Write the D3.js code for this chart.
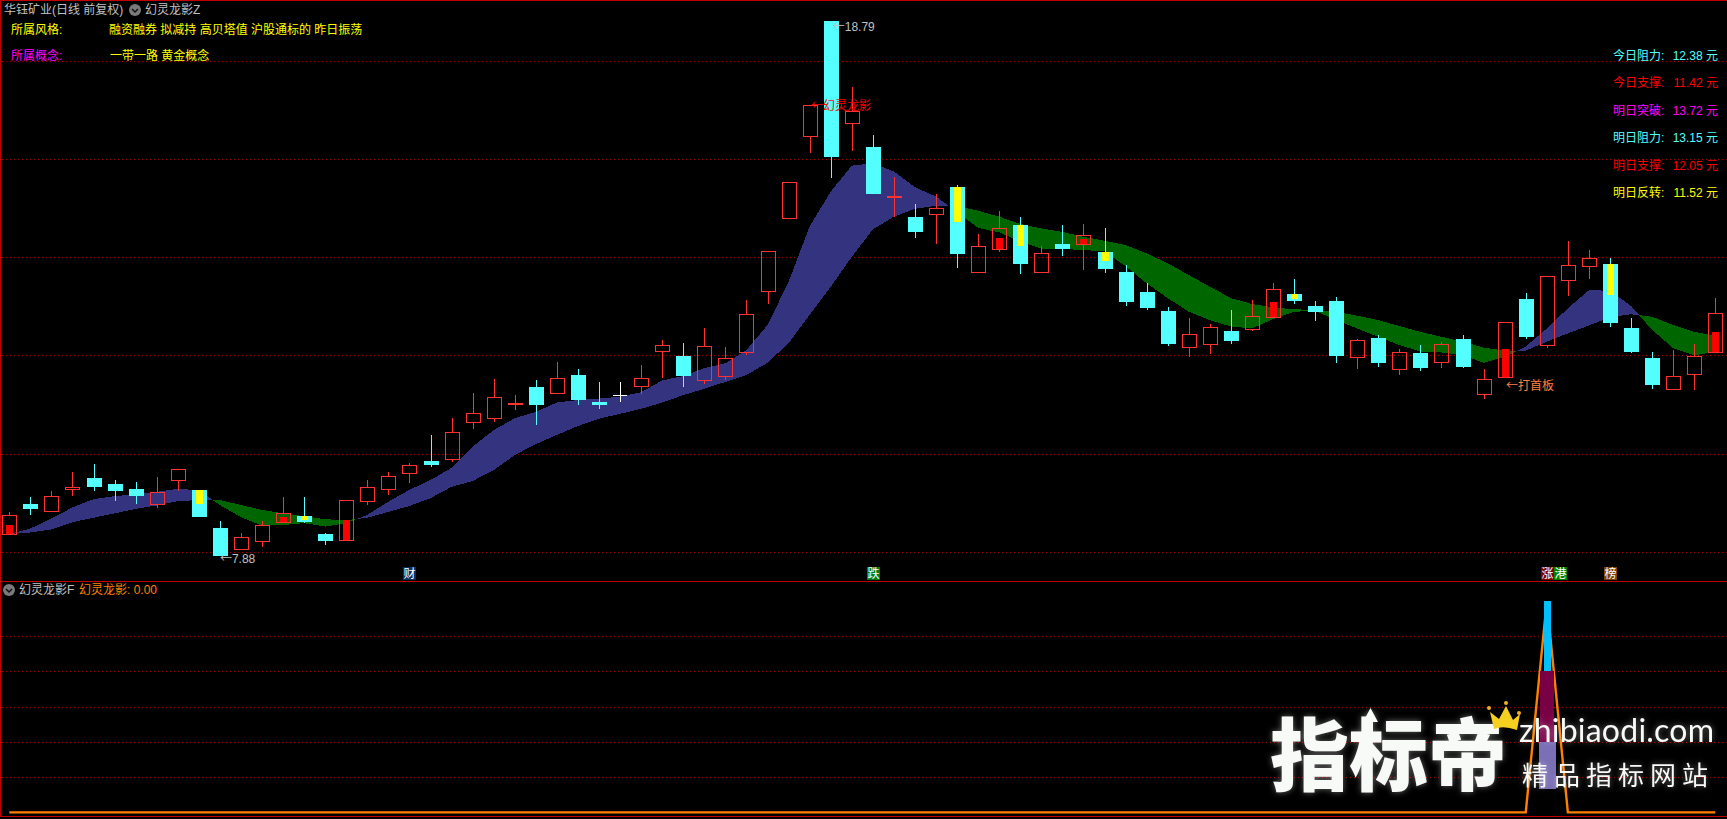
<!DOCTYPE html>
<html><head><meta charset="utf-8">
<script src="https://cdn.jsdelivr.net/npm/d3@7"></script>
<style>
html,body{margin:0;padding:0;background:#000;overflow:hidden}
svg{display:block}
text{font-family:"Liberation Sans","Noto Sans CJK SC",sans-serif;font-size:12px}
</style></head><body>
<script>
const highs=[8.78,9.08,9.21,9.59,9.76,9.43,9.39,9.49,9.65,9.23,8.59,8.35,8.59,9.08,9.08,8.35,9.02,9.44,9.59,9.78,10.35,10.69,11.20,11.49,11.16,11.47,11.84,11.69,11.43,11.43,11.77,12.28,12.22,12.53,12.14,13.10,14.09,15.50,17.07,18.79,17.44,16.47,15.61,15.06,15.26,15.45,14.45,14.92,14.79,14.20,14.63,14.65,14.57,13.81,13.45,12.96,12.73,12.61,12.90,13.10,13.45,13.53,13.08,13.16,12.31,12.39,12.10,12.18,12.24,12.39,11.69,12.65,13.24,13.58,14.30,14.12,13.96,12.73,12.04,12.08,12.20,13.14];
const lows=[8.30,8.72,8.78,9.10,9.21,9.00,8.94,8.86,9.21,8.67,7.88,8.03,8.06,8.58,8.55,8.10,8.19,8.92,9.12,9.37,9.70,9.80,10.47,10.61,10.86,10.55,11.21,10.96,10.88,11.02,11.19,11.51,11.33,11.39,11.47,11.98,13.02,14.78,16.10,15.59,16.14,15.26,14.79,14.37,14.24,13.75,13.68,14.08,13.63,13.68,14.00,13.71,13.65,12.98,12.90,12.16,11.94,12.00,12.20,12.47,12.76,13.02,12.67,11.82,11.69,11.74,11.57,11.65,11.71,11.71,11.08,11.54,12.31,12.12,13.18,13.53,12.55,12.02,11.29,11.27,11.27,12.05];
const opens=[8.32,8.94,8.80,9.25,9.47,9.35,9.25,8.95,9.42,9.23,8.45,8.03,8.19,8.58,8.70,8.33,8.21,9.01,9.25,9.58,9.82,9.86,10.62,10.70,10.97,11.33,11.21,11.57,11.02,11.16,11.35,12.07,11.96,11.46,11.56,12.05,13.29,14.78,16.44,18.79,16.70,16.22,15.21,14.79,14.86,15.41,13.68,14.15,14.63,13.68,14.24,14.25,14.08,13.67,13.26,12.88,12.15,12.21,12.47,12.50,12.76,13.22,12.98,13.08,11.93,12.33,11.70,12.02,11.84,12.31,11.19,11.54,13.12,12.18,13.50,13.80,13.83,12.53,11.92,11.29,11.60,12.05];
const closes=[8.71,8.84,9.10,9.29,9.29,9.21,9.10,9.18,9.65,8.67,7.88,8.26,8.51,8.75,8.57,8.19,9.02,9.28,9.52,9.73,9.74,10.40,10.79,11.12,11.01,10.96,11.52,11.06,10.96,11.16,11.50,12.18,11.55,12.16,11.91,12.81,14.09,15.50,17.07,16.02,16.95,15.26,15.22,14.49,14.97,14.04,14.20,14.56,13.84,14.05,14.14,14.42,13.73,13.06,12.94,12.20,12.40,12.56,12.26,12.77,13.32,13.08,12.86,11.96,12.28,11.82,12.05,11.71,12.20,11.74,11.48,12.65,12.35,13.58,13.81,13.95,12.63,12.04,11.37,11.56,11.95,12.83];

const ribbonFast=[8.33,8.44,8.65,8.87,9.04,9.10,9.14,9.19,9.25,9.22,8.92,8.67,8.50,8.51,8.55,8.48,8.55,8.72,8.99,9.23,9.43,9.68,10.11,10.45,10.69,10.82,11.01,11.06,11.09,11.13,11.22,11.46,11.55,11.71,11.81,12.08,12.59,13.47,14.60,15.31,15.84,15.89,15.72,15.40,15.21,14.90,14.57,14.48,14.29,14.15,14.14,14.12,14.09,13.79,13.44,13.14,12.86,12.69,12.56,12.52,12.71,12.86,12.88,12.69,12.52,12.35,12.18,12.05,12.03,11.98,11.82,11.94,12.15,12.52,12.93,13.30,13.29,12.98,12.49,12.12,11.97,12.05];
const ribbonSlow=[8.33,8.36,8.42,8.57,8.66,8.75,8.84,8.91,9.00,9.02,9.02,8.92,8.82,8.75,8.69,8.63,8.61,8.66,8.78,8.90,9.06,9.29,9.41,9.63,9.94,10.16,10.35,10.53,10.68,10.78,10.88,11.01,11.16,11.29,11.43,11.57,11.82,12.22,12.80,13.37,13.98,14.54,14.80,14.96,15.02,15.02,14.92,14.80,14.65,14.56,14.49,14.39,14.31,14.22,14.05,13.85,13.61,13.37,13.14,13.02,12.95,12.91,12.90,12.86,12.78,12.69,12.57,12.45,12.35,12.25,12.13,12.07,12.07,12.25,12.42,12.58,12.75,12.81,12.76,12.59,12.45,12.37];

const redInnerIdx=[0,13,16,47,51,60,71,81];
const redInnerTop=[8.51,8.67,8.61,14.37,14.34,13.06,12.10,12.45];
const redInnerBot=[8.32,8.58,8.21,14.15,14.25,12.76,11.54,12.05];
const yellowInnerIdx=[9,14,45,48,52,61,76];
const yellowInnerTop=[9.23,8.70,15.41,14.63,14.08,13.22,13.83];
const yellowInnerBot=[8.94,8.61,14.70,14.20,13.90,13.12,13.20];

const mainGrid=[7.96,9.96,11.97,13.97,15.98,17.98];
const subGrid=[1,2,3,4,5];
const subLine=[0,0,0,0,0,0,0,0,0,0,0,0,0,0,0,0,0,0,0,0,0,0,0,0,0,0,0,0,0,0,0,0,0,0,0,0,0,0,0,0,0,0,0,0,0,0,0,0,0,0,0,0,0,0,0,0,0,0,0,0,0,0,0,0,0,0,0,0,0,0,0,0,0,6,0,0,0,0,0,0,0,0];
const subBarIdx=73;
const subBarBase=[0.66,2,4];
const subBarTop=[2,4,6];

const styleTags=["融资融券 拟减持 高贝塔值 沪股通标的 昨日振荡"];
const conceptTags=["一带一路 黄金概念"];
const levelNames=["今日阻力:","今日支撑:","明日突破:","明日阻力:","明日支撑:","明日反转:"];
const levelValues=["12.38 元","11.42 元","13.72 元","13.15 元","12.05 元","11.52 元"];
const badgeText=["财","跌","涨","港","榜"];
const badgeIdx=[19,41,73,73,76];

const W=1727,H=819,N=82;
const x=d3.scaleLinear().domain([0,81]).range([9.3,1715.3]);
const y=d3.scaleLinear().domain([7.88,18.79]).range([556,21]);
const ySub=d3.scaleLinear().domain([0,6]).range([812.4,601]);
const px=i=>Math.round(x(i));
const py=v=>Math.round(y(v));

const RED="#ff3232",CYAN="#54ffff",BORDER="#c00000",GRID="#a00000",GRAY="#c0c0c0",ORANGE="#ff8000";
const svg=d3.select("body").append("svg").attr("width",W).attr("height",H);
svg.append("rect").attr("width",W).attr("height",H).attr("fill","#000");
const crisp=g=>g.attr("shape-rendering","crispEdges");

// borders
const frame=svg.append("g").call(crisp);
[[0,.5,W,.5],[.5,0,.5,817],[0,581.5,W,581.5],[0,816.5,W,816.5]].forEach(l=>frame.append("line")
 .attr("x1",l[0]).attr("y1",l[1]).attr("x2",l[2]).attr("y2",l[3]).attr("stroke",BORDER));

// grids
const gridG=svg.append("g").call(crisp);
gridG.selectAll("line.m").data(mainGrid).join("line").attr("class","m")
 .attr("x1",2).attr("x2",W).attr("y1",d=>Math.round(y(d))+.5).attr("y2",d=>Math.round(y(d))+.5);
gridG.selectAll("line.s").data(subGrid).join("line").attr("class","s")
 .attr("x1",2).attr("x2",W).attr("y1",d=>Math.round(ySub(d))+.5).attr("y2",d=>Math.round(ySub(d))+.5);
gridG.selectAll("line").attr("stroke",GRID).attr("stroke-dasharray","1,3");

// ribbon split into rising / falling segments at crossings
const segs=[];let cur=null;
for(let i=0;i<N;i++){
  const f=ribbonFast[i],s=ribbonSlow[i],up=f>=s;
  if(!cur){cur={up,pts:[{i,f,s}]};continue;}
  if(cur.up!==up){
    const pf=ribbonFast[i-1],ps=ribbonSlow[i-1];
    const t=(pf-ps)/((pf-ps)-(f-s));
    const c={i:i-1+t,f:pf+(f-pf)*t,s:ps+(s-ps)*t};
    cur.pts.push(c);segs.push(cur);cur={up,pts:[c]};
  }
  cur.pts.push({i,f,s});
}
segs.push(cur);
const area=d3.area().x(d=>x(d.i)).y0(d=>y(d.f)).y1(d=>y(d.s));
svg.append("g").call(crisp).selectAll("path").data(segs).join("path")
 .attr("d",d=>area(d.pts)).attr("fill",d=>d.up?"#333380":"#006600");

// candles
const candles=d3.range(N).map(i=>({i,h:highs[i],l:lows[i],o:opens[i],c:closes[i]}));
const cg=svg.append("g").call(crisp);
candles.forEach(d=>{
  const cx=px(d.i),top=py(Math.max(d.o,d.c)),bot=py(Math.min(d.o,d.c)),hi=py(d.h),lo=py(d.l);
  if(d.c===d.o){
    cg.append("line").attr("x1",cx+.5).attr("x2",cx+.5).attr("y1",hi).attr("y2",lo).attr("stroke","#fff");
    cg.append("line").attr("x1",cx-7).attr("x2",cx+7).attr("y1",top+.5).attr("y2",top+.5).attr("stroke","#fff");
  }else if(d.c>d.o){
    if(hi<top)cg.append("line").attr("x1",cx+.5).attr("x2",cx+.5).attr("y1",hi).attr("y2",top).attr("stroke",RED);
    if(lo>bot)cg.append("line").attr("x1",cx+.5).attr("x2",cx+.5).attr("y1",bot).attr("y2",lo).attr("stroke",RED);
    cg.append("rect").attr("x",cx-6.5).attr("y",top+.5).attr("width",14).attr("height",Math.max(bot-top,1))
      .attr("fill","none").attr("stroke",RED);
  }else{
    cg.append("line").attr("x1",cx+.5).attr("x2",cx+.5).attr("y1",hi).attr("y2",lo).attr("stroke",CYAN);
    cg.append("rect").attr("x",cx-7).attr("y",top).attr("width",15).attr("height",Math.max(bot-top,1)).attr("fill",CYAN);
  }
});
redInnerIdx.forEach((id,k)=>cg.append("rect").attr("x",px(id)-3).attr("width",7)
  .attr("y",py(redInnerTop[k])).attr("height",py(redInnerBot[k])-py(redInnerTop[k])).attr("fill","#ff0000"));
yellowInnerIdx.forEach((id,k)=>cg.append("rect").attr("x",px(id)-3).attr("width",7)
  .attr("y",py(yellowInnerTop[k])).attr("height",py(yellowInnerBot[k])-py(yellowInnerTop[k])).attr("fill","#ffff00"));

// lower panel
const subPath=d3.line().x((d,i)=>x(i)).y(d=>ySub(d));
svg.append("path").attr("d",subPath(subLine)).attr("fill","none").attr("stroke",ORANGE).attr("stroke-width",2.4);
const subColors=["#7b6fb5","#7a0046","#00bfff"],subWidths=[17,14,7];
svg.append("g").call(crisp).selectAll("rect").data(subBarBase).join("rect")
 .attr("x",(d,k)=>x(subBarIdx)+.6-subWidths[k]/2).attr("width",(d,k)=>subWidths[k])
 .attr("y",(d,k)=>ySub(subBarTop[k])).attr("height",(d,k)=>ySub(d)-ySub(subBarTop[k]))
 .attr("fill",(d,k)=>subColors[k]);

// text helper
const T=(s,tx,ty,col,anchor)=>svg.append("text").text(s).attr("x",tx).attr("y",ty).attr("fill",col).attr("text-anchor",anchor||"start");
const A=(s,tx,ty,col)=>{ // arrow label: full-width CJK arrow followed by the text
  const t=svg.append("text").attr("x",tx).attr("y",ty).attr("fill",col);
  t.append("tspan").text("←").style("font-family","'Noto Sans CJK SC'");
  t.append("tspan").text(s);
};
const icon=(cx,cy)=>{
  svg.append("circle").attr("cx",cx).attr("cy",cy).attr("r",6).attr("fill","#7a7a7a");
  svg.append("path").attr("d",`M${cx-3},${cy-1}L${cx},${cy+2}L${cx+3},${cy-1}`).attr("fill","none").attr("stroke","#111").attr("stroke-width",1.5);
};
T("华钰矿业(日线 前复权)",4,14,GRAY);
icon(135,10);
T("幻灵龙影Z",145,14,GRAY);
T("所属风格:",11,34,"#ffff00");
T(styleTags[0],109,34,"#ffff00");
T("所属概念:",11,60,"#ff00ff");
T(conceptTags[0],110,60,"#ffff00");

const levelColors=[CYAN,"#ff0000","#ff00ff",CYAN,"#ff0000","#ffff00"],levelY=[60,87,115,142,170,197];
levelNames.forEach((n,k)=>{T(n,1613,levelY[k],levelColors[k]);T(levelValues[k],1718,levelY[k],levelColors[k],"end");});

A("18.79",x(39)+2,31,GRAY);
A("7.88",x(10),563,GRAY);
A("幻灵龙影",811,110,"#ff0000");
A("打首板",1506,390,"#ff8040");

icon(9,590);
T("幻灵龙影F",19,594,GRAY);
T("幻灵龙影: 0.00",79,594,ORANGE);

// badges
const badgeColors=["#0a2f5f","#007a10","#800000","#008000","#804000"],badgeOff=[0,0,0,13,0];
badgeText.forEach((b,k)=>{
  const bx=px(badgeIdx[k])+badgeOff[k]-6;
  svg.append("rect").attr("x",bx).attr("y",567).attr("width",13).attr("height",13).attr("fill",badgeColors[k]).attr("shape-rendering","crispEdges");
  svg.append("text").text(b).attr("x",bx+.5).attr("y",578).attr("fill","#fff");
});

// watermark
const wm=svg.append("g").style("filter","drop-shadow(0 0 3px rgba(255,255,255,.4))");
wm.append("text").text("指标帝").attr("x",1270).attr("y",785).attr("fill","#f8faf7")
  .style("font-family","'Noto Sans CJK SC'").style("font-size","79px").style("font-weight","900");
wm.append("path").attr("d","M1370.5,708L1378,722L1373,722L1373,735L1368,735L1368,722L1363,722Z").attr("fill","#f8faf7");
wm.append("text").text("zhibiaodi.com").attr("x",1519).attr("y",742).attr("fill","#f8faf7")
  .attr("textLength",195).style("font-family","Lato").style("font-size","32px");
wm.append("text").text("精品指标网站").attr("x",1522).attr("y",785).attr("fill","#f8faf7")
  .attr("textLength",186).style("font-family","'Noto Sans CJK SC'").style("font-size","26px");
const crown=svg.append("g");
crown.append("path").attr("d","M1490,712L1499,719L1506,706L1513,720L1520,714L1517,730Q1503,725 1494,729Z").attr("fill","#f5d020");
[[1489,708],[1506,703],[1519,713]].forEach(p=>crown.append("circle").attr("cx",p[0]).attr("cy",p[1]).attr("r",2).attr("fill","#f0b020"));
</script>
</body></html>
